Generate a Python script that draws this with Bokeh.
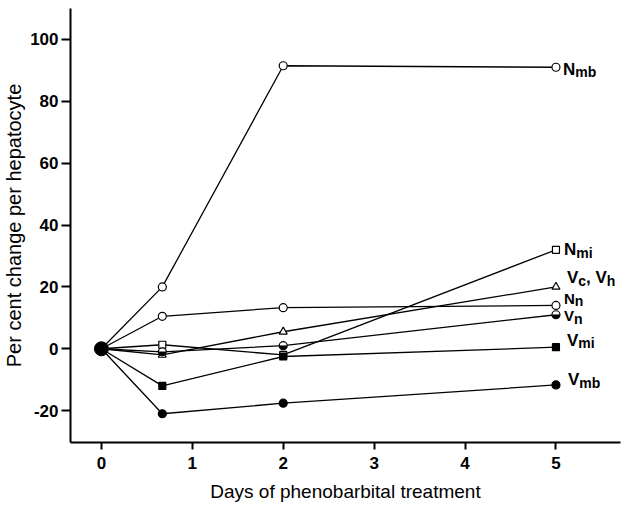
import math

from bokeh.core.properties import value
from bokeh.embed import file_html
from bokeh.models import PrintfTickFormatter
from bokeh.plotting import figure
from bokeh.resources import INLINE

# Sampling times (days of phenobarbital treatment)
days = [0, 0.67, 2, 5]

# Per cent change per hepatocyte for each compartment
n_mb = [0, 20, 91.5, 91]
n_mi = [0, 1.3, -2, 32]
v_ch = [0, -2, 5.5, 20]
n_n = [0, 10.5, 13.3, 14]
v_n = [0, -1, 1, 11]
v_mi = [0, -12, -2.5, 0.5]
v_mb = [0, -21, -17.6, -11.7]

x_ticks = [0, 1, 2, 3, 4, 5]
y_ticks = [-20, 0, 20, 40, 60, 80, 100]

FONT = "Liberation Sans"

# label pieces: (text, is_subscript)
series = [
    dict(vals=n_mb, marker="circle", fill="white", half=False,
         label=[("N", False), ("mb", True)]),
    dict(vals=n_mi, marker="square", fill="white", half=False,
         label=[("N", False), ("mi", True)]),
    dict(vals=v_ch, marker="triangle", fill="white", half=False,
         label=[("V", False), ("c", True), (", V", False), ("h", True)]),
    dict(vals=n_n, marker="circle", fill="white", half=False,
         label=[("N", False), ("n", True)]),
    dict(vals=v_n, marker="circle", fill="white", half=True,
         label=[("V", False), ("n", True)]),
    dict(vals=v_mi, marker="square", fill="black", half=False,
         label=[("V", False), ("mi", True)]),
    dict(vals=v_mb, marker="circle", fill="black", half=False,
         label=[("V", False), ("mb", True)]),
]

# end-label placement in screen pixels relative to the day-5 point:
# (dx, dy of text, main font px, subscript font px)
label_style = [
    (7, 2, 17, 14),
    (8, 0, 17, 14),
    (11, -9, 17, 14),
    (8, -7, 15, 14),
    (8, 1, 15, 14),
    (11, -7, 17, 14),
    (12, -5, 17, 14),
]

marker_size = {"circle": 8, "square": 7, "triangle": 8}

# approximate advance widths (em) for bold Liberation Sans
ADV = {"N": 0.722, "V": 0.667, "m": 0.889, "b": 0.611, "i": 0.278,
       "n": 0.611, "c": 0.556, "h": 0.611, ",": 0.278, " ": 0.278}


def text_width(s, size):
    return sum(ADV.get(ch, 0.6) for ch in s) * size


p = figure(width=626, height=507,
           x_range=(-0.34, 5.71), y_range=(-30.3, 110),
           min_border_left=69, min_border_right=6,
           min_border_top=8, min_border_bottom=65,
           output_backend="svg", toolbar_location=None)
p.outline_line_color = None
p.grid.visible = False
p.background_fill_color = "white"
p.border_fill_color = "white"

for s in series:
    p.line(days, s["vals"], line_color="black", line_width=1.3)

for s in series:
    xs, ys = days[1:], s["vals"][1:]
    p.scatter(xs, ys, marker=s["marker"], size=marker_size[s["marker"]],
              fill_color=s["fill"], line_color="black", line_width=1.2)
    if s["half"]:
        p.wedge(xs, ys, radius=3.6, radius_units="screen",
                start_angle=math.pi, end_angle=2 * math.pi,
                fill_color="black", line_color="black", line_width=0.5)

# common starting point at day 0
p.scatter([days[0]], [0], marker="circle", size=14,
          fill_color="black", line_color="black")

# series labels with subscripts at the right-hand end
for s, (dx, dy, fmain, fsub) in zip(series, label_style):
    x_end, y_end = days[-1], s["vals"][-1]
    off = dx
    for txt, sub in s["label"]:
        fs = fsub if sub else fmain
        p.text([x_end], [y_end], text=[txt],
               x_offset=off, y_offset=dy + (3 if sub else 0),
               text_font=value(FONT), text_font_style="bold",
               text_font_size=f"{fs}px", text_color="black",
               text_align="left", text_baseline="alphabetic")
        off += text_width(txt, fs)

# axes
for ax in (p.xaxis, p.yaxis):
    ax.axis_line_width = 2
    ax.axis_line_color = "black"
    ax.major_tick_line_width = 2
    ax.major_tick_line_color = "black"
    ax.major_tick_in = 0
    ax.minor_tick_line_color = None
    ax.major_label_text_font = FONT
    ax.major_label_text_font_style = "bold"
    ax.major_label_text_font_size = "17px"
    ax.major_label_text_color = "black"
    ax.formatter = PrintfTickFormatter(format="%d")
    ax.axis_label_text_font = FONT
    ax.axis_label_text_font_style = "normal"
    ax.axis_label_text_color = "black"

p.xaxis.ticker = x_ticks
p.xaxis.major_tick_out = 7
p.xaxis.major_label_standoff = 7
p.xaxis.axis_label = "Days of phenobarbital treatment"
p.xaxis.axis_label_text_font_size = "19px"
p.xaxis.axis_label_standoff = 9

p.yaxis.ticker = y_ticks
p.yaxis.major_tick_out = 9
p.yaxis.major_label_standoff = 3
p.yaxis.axis_label = "Per cent change per hepatocyte"
p.yaxis.axis_label_text_font_size = "20px"
p.yaxis.axis_label_standoff = 2

open("out.html", "w").write(file_html(p, INLINE))
